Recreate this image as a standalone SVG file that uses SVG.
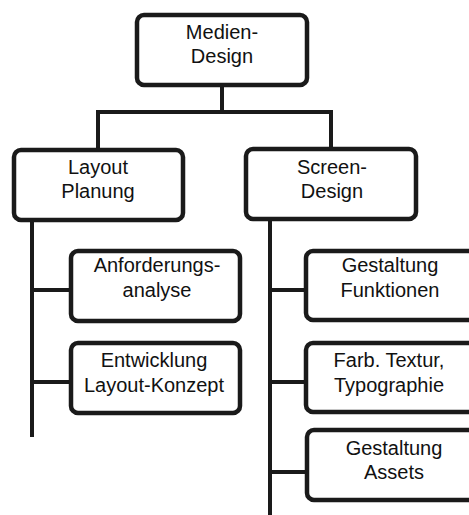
<svg xmlns="http://www.w3.org/2000/svg" width="469" height="515" viewBox="0 0 469 515">
  <style>
    .box { fill: #ffffff; stroke: #1a1a1a; stroke-width: 4.5; }
    .lbl { font-family: "Liberation Sans", Arial, sans-serif; font-size: 20px; fill: #111111; text-anchor: middle; }
    .wire { fill: none; stroke: #1a1a1a; stroke-width: 4; stroke-linecap: butt; stroke-linejoin: miter; }
  </style>
  <rect width="469" height="515" fill="#ffffff"/>

  <g id="connectors">
    <path class="wire" d="M222 85 V112 M96 112 H332 M98 110 V150 M331 110 V149"/>
    <path class="wire" d="M32 220 V437 M32 290 H71 M32 382 H71"/>
    <path class="wire" d="M270 220 V515 M270 290 H306 M270 382 H306 M270 472 H307"/>
  </g>

  <g id="medien-design">
    <rect class="box" x="137" y="15" width="170" height="70" rx="7"/>
    <text class="lbl" x="222" y="39">Medien-</text>
    <text class="lbl" x="222" y="63">Design</text>
  </g>

  <g id="layout-planung">
    <rect class="box" x="14" y="150" width="169" height="70" rx="7"/>
    <text class="lbl" x="98" y="174">Layout</text>
    <text class="lbl" x="98" y="198">Planung</text>
  </g>

  <g id="screen-design">
    <rect class="box" x="246" y="149" width="170" height="70" rx="7"/>
    <text class="lbl" x="332" y="174">Screen-</text>
    <text class="lbl" x="332" y="198">Design</text>
  </g>

  <g id="anforderungsanalyse">
    <rect class="box" x="71" y="251" width="169" height="70" rx="7"/>
    <text class="lbl" x="157" y="272">Anforderungs-</text>
    <text class="lbl" x="157" y="297">analyse</text>
  </g>

  <g id="entwicklung-layout-konzept">
    <rect class="box" x="71" y="343" width="169" height="70" rx="7"/>
    <text class="lbl" x="154" y="367">Entwicklung</text>
    <text class="lbl" x="154" y="392">Layout-Konzept</text>
  </g>

  <g id="gestaltung-funktionen">
    <rect class="box" x="306" y="251" width="170" height="69" rx="7"/>
    <text class="lbl" x="390" y="272">Gestaltung</text>
    <text class="lbl" x="390" y="297">Funktionen</text>
  </g>

  <g id="farb-textur-typographie">
    <rect class="box" x="306" y="343" width="170" height="69" rx="7"/>
    <text class="lbl" x="389" y="367">Farb. Textur,</text>
    <text class="lbl" x="389" y="392">Typographie</text>
  </g>

  <g id="gestaltung-assets">
    <rect class="box" x="307" y="430" width="170" height="70" rx="7"/>
    <text class="lbl" x="394" y="455">Gestaltung</text>
    <text class="lbl" x="394" y="479">Assets</text>
  </g>
</svg>
